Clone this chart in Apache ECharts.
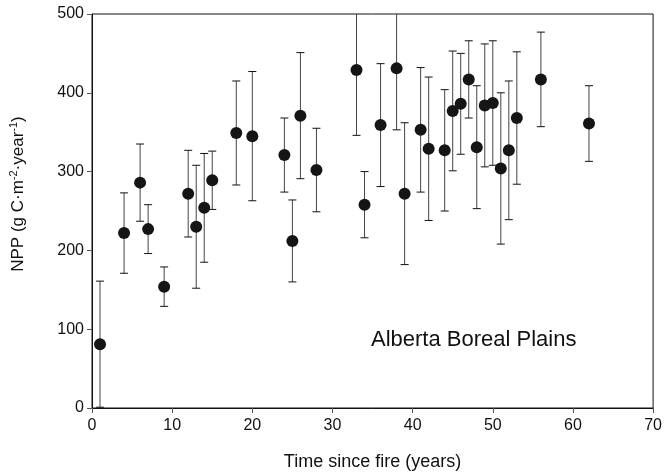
<!DOCTYPE html>
<html>
<head>
<meta charset="utf-8">
<script src="https://cdn.jsdelivr.net/npm/echarts@6/dist/echarts.min.js"></script>
<style>
  html, body { margin: 0; padding: 0; background: #fff; }
  #chart { width: 665px; height: 476px; }
</style>
</head>
<body>
<div id="chart"></div>
<script>
// time since fire (years)
const years = [1, 4, 6, 7, 9, 12, 13, 14, 15, 18, 20, 24, 25, 26, 28, 33, 34, 36, 38, 39,
  41, 42, 44, 45, 46, 47, 48, 49, 50, 51, 52, 53, 56, 62]
// NPP mean (g C m-2 yr-1)
const npp = [81, 222, 286, 227, 154, 272, 230, 254, 289, 349, 345, 321, 212, 371, 302, 429, 258, 359, 431, 272,
  353, 329, 327, 377, 386, 417, 331, 384, 387, 304, 327, 368, 417, 361]
// error (half bar length)
const err = [80, 51, 49, 31, 25, 55, 78, 69, 37, 66, 82, 47, 52, 80, 53, 83, 42, 78, 78, 90,
  79, 91, 77, 76, 64, 49, 78, 78, 79, 96, 88, 84, 60, 48]
const xTicks = [0, 10, 20, 30, 40, 50, 60, 70]
const yTicks = [0, 100, 200, 300, 400, 500]

const font = '"Liberation Sans", Arial, sans-serif'
const chart = echarts.init(document.getElementById('chart'))

const points = years.map((y, i) => [y, npp[i]])
const bars = years.map((y, i) => [y, npp[i] - err[i], npp[i] + err[i]])

const option = {
  animation: false,
  grid: {
    left: 92,
    right: 11,
    top: 14,
    bottom: 68,
    show: true,
    borderColor: '#111',
    borderWidth: 1
  },
  xAxis: {
    type: 'value',
    min: xTicks[0],
    max: xTicks[xTicks.length - 1],
    interval: 10,
    name: 'Time since fire (years)',
    nameLocation: 'middle',
    nameGap: 45,
    nameTextStyle: { fontFamily: font, fontSize: 18, color: '#111' },
    axisLine: { lineStyle: { color: '#111', width: 1 } },
    axisTick: { show: true, inside: false, length: 5, lineStyle: { color: '#555' } },
    axisLabel: { fontFamily: font, fontSize: 16, color: '#111', margin: 10 },
    splitLine: { show: false }
  },
  yAxis: {
    type: 'value',
    min: yTicks[0],
    max: yTicks[yTicks.length - 1],
    interval: 100,
    name: 'NPP (g C\u00b7m{sup|-2}\u00b7year{sup|-1})',
    nameLocation: 'middle',
    nameRotate: 90,
    nameGap: 64,
    nameTextStyle: {
      fontFamily: font,
      fontSize: 17,
      color: '#111',
      lineHeight: 20,
      padding: [0, 0, 0, 34],
      rich: {
        sup: { fontFamily: font, fontSize: 11, color: '#111', verticalAlign: 'top', lineHeight: 20 }
      }
    },
    axisLine: { show: true, lineStyle: { color: '#111', width: 1 } },
    axisTick: { show: true, inside: false, length: 5, lineStyle: { color: '#555' } },
    axisLabel: { fontFamily: font, fontSize: 16, color: '#111', margin: 8 },
    splitLine: { show: false }
  },
  graphic: [
    {
      type: 'text',
      x: 371,
      y: 340,
      style: {
        text: 'Alberta Boreal Plains',
        font: '22px "Liberation Sans", Arial, sans-serif',
        fill: '#111',
        verticalAlign: 'middle'
      }
    }
  ],
  series: [
    {
      type: 'custom',
      name: 'error',
      clip: true,
      data: bars,
      renderItem: (params, api) => {
        const x = api.value(0)
        const lo = api.coord([x, api.value(1)])
        const hi = api.coord([x, api.value(2)])
        const cap = 4
        return {
          type: 'group',
          children: [
            { type: 'line', shape: { x1: lo[0], y1: lo[1], x2: hi[0], y2: hi[1] }, style: { stroke: '#444', lineWidth: 1 } },
            { type: 'line', shape: { x1: lo[0] - cap, y1: lo[1], x2: lo[0] + cap, y2: lo[1] }, style: { stroke: '#111', lineWidth: 1 } },
            { type: 'line', shape: { x1: hi[0] - cap, y1: hi[1], x2: hi[0] + cap, y2: hi[1] }, style: { stroke: '#111', lineWidth: 1 } }
          ]
        }
      },
      z: 2
    },
    {
      type: 'scatter',
      name: 'NPP',
      data: points,
      symbol: 'circle',
      symbolSize: 12,
      itemStyle: { color: '#151515', opacity: 1 },
      z: 3
    }
  ]
}

chart.setOption(option)
</script>
</body>
</html>
